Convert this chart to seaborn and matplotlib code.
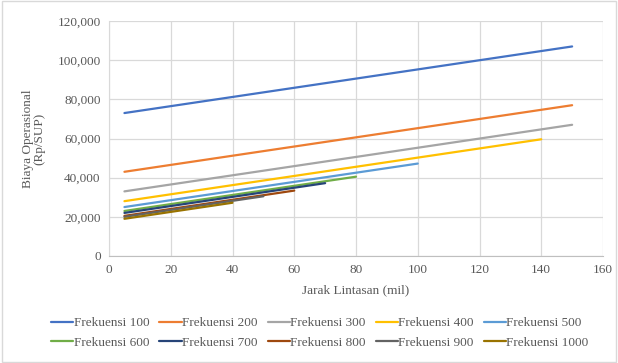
import matplotlib
matplotlib.use("Agg")
import matplotlib.pyplot as plt
import seaborn as sns
import pandas as pd
from matplotlib.patches import Rectangle
from matplotlib.ticker import FuncFormatter, MultipleLocator

series = ["Frekuensi 100", "Frekuensi 200", "Frekuensi 300", "Frekuensi 400", "Frekuensi 500",
          "Frekuensi 600", "Frekuensi 700", "Frekuensi 800", "Frekuensi 900", "Frekuensi 1000"]
start_mil = [5, 5, 5, 5, 5, 5, 5, 5, 5, 5]
end_mil = [150, 150, 150, 140, 100, 80, 70, 60, 50, 40]
start_cost = [73000, 43000, 33000, 28000, 25000, 23000, 22000, 20500, 20000, 19000]
end_cost = [107000, 77000, 67000, 59600, 47200, 40500, 37200, 33400, 30500, 27200]
colors = ["#4472C4", "#ED7D31", "#A5A5A5", "#FFC000", "#5B9BD5",
          "#70AD47", "#264478", "#9E480E", "#636363", "#997300"]

rows = []
for s, x0, x1, y0, y1 in zip(series, start_mil, end_mil, start_cost, end_cost):
    rows.append({"Jarak": x0, "Biaya": y0, "Seri": s})
    rows.append({"Jarak": x1, "Biaya": y1, "Seri": s})
df = pd.DataFrame(rows)

sns.set_style("white")
plt.rcParams["font.family"] = ["Liberation Serif", "DejaVu Serif"]

fig = plt.figure(figsize=(6.18, 3.63), dpi=100)
ax = fig.add_axes([109/618, 1-256/363, (603-109)/618, (256-21)/363])

sns.lineplot(data=df, x="Jarak", y="Biaya", hue="Seri", hue_order=series,
             palette=colors, linewidth=1.6, ax=ax, legend=True, estimator=None)

ax.set_xlim(0, 160)
ax.set_ylim(0, 120000)
ax.xaxis.set_major_locator(MultipleLocator(20))
ax.yaxis.set_major_locator(MultipleLocator(20000))
ax.yaxis.set_major_formatter(FuncFormatter(lambda v, p: f"{int(v):,}"))
ax.grid(True, color="#D9D9D9", linewidth=0.9)
ax.set_axisbelow(True)
for sp in ["top", "right"]:
    ax.spines[sp].set_visible(False)
ax.spines["left"].set_color("#D9D9D9")
ax.spines["bottom"].set_color("#BFBFBF")
ax.tick_params(axis="both", length=0, labelsize=9.5, labelcolor="#595959", pad=6)

ax.set_xlabel("Jarak Lintasan (mil)", fontsize=9.5, color="#595959", labelpad=6)
ax.set_ylabel("Biaya Operasional\n(Rp/SUP)", fontsize=9.5, color="#595959", labelpad=9,
              linespacing=0.9)

handles, labels = ax.get_legend_handles_labels()
ax.get_legend().remove()
order = []
for c in range(5):
    order += [c, c + 5]
fig.legend([handles[i] for i in order], [labels[i] for i in order], ncol=5,
           loc="center", bbox_to_anchor=(320/618, 1-333/363), frameon=False,
           fontsize=9.5, labelcolor="#595959", handlelength=1.67, handletextpad=0.05,
           columnspacing=0.75, labelspacing=0.55)

fig.patches.append(Rectangle((0.003, 0.003), 0.994, 0.994, transform=fig.transFigure,
                             fill=False, edgecolor="#D9D9D9", linewidth=1.0))

fig.savefig("out.png", dpi=100)
